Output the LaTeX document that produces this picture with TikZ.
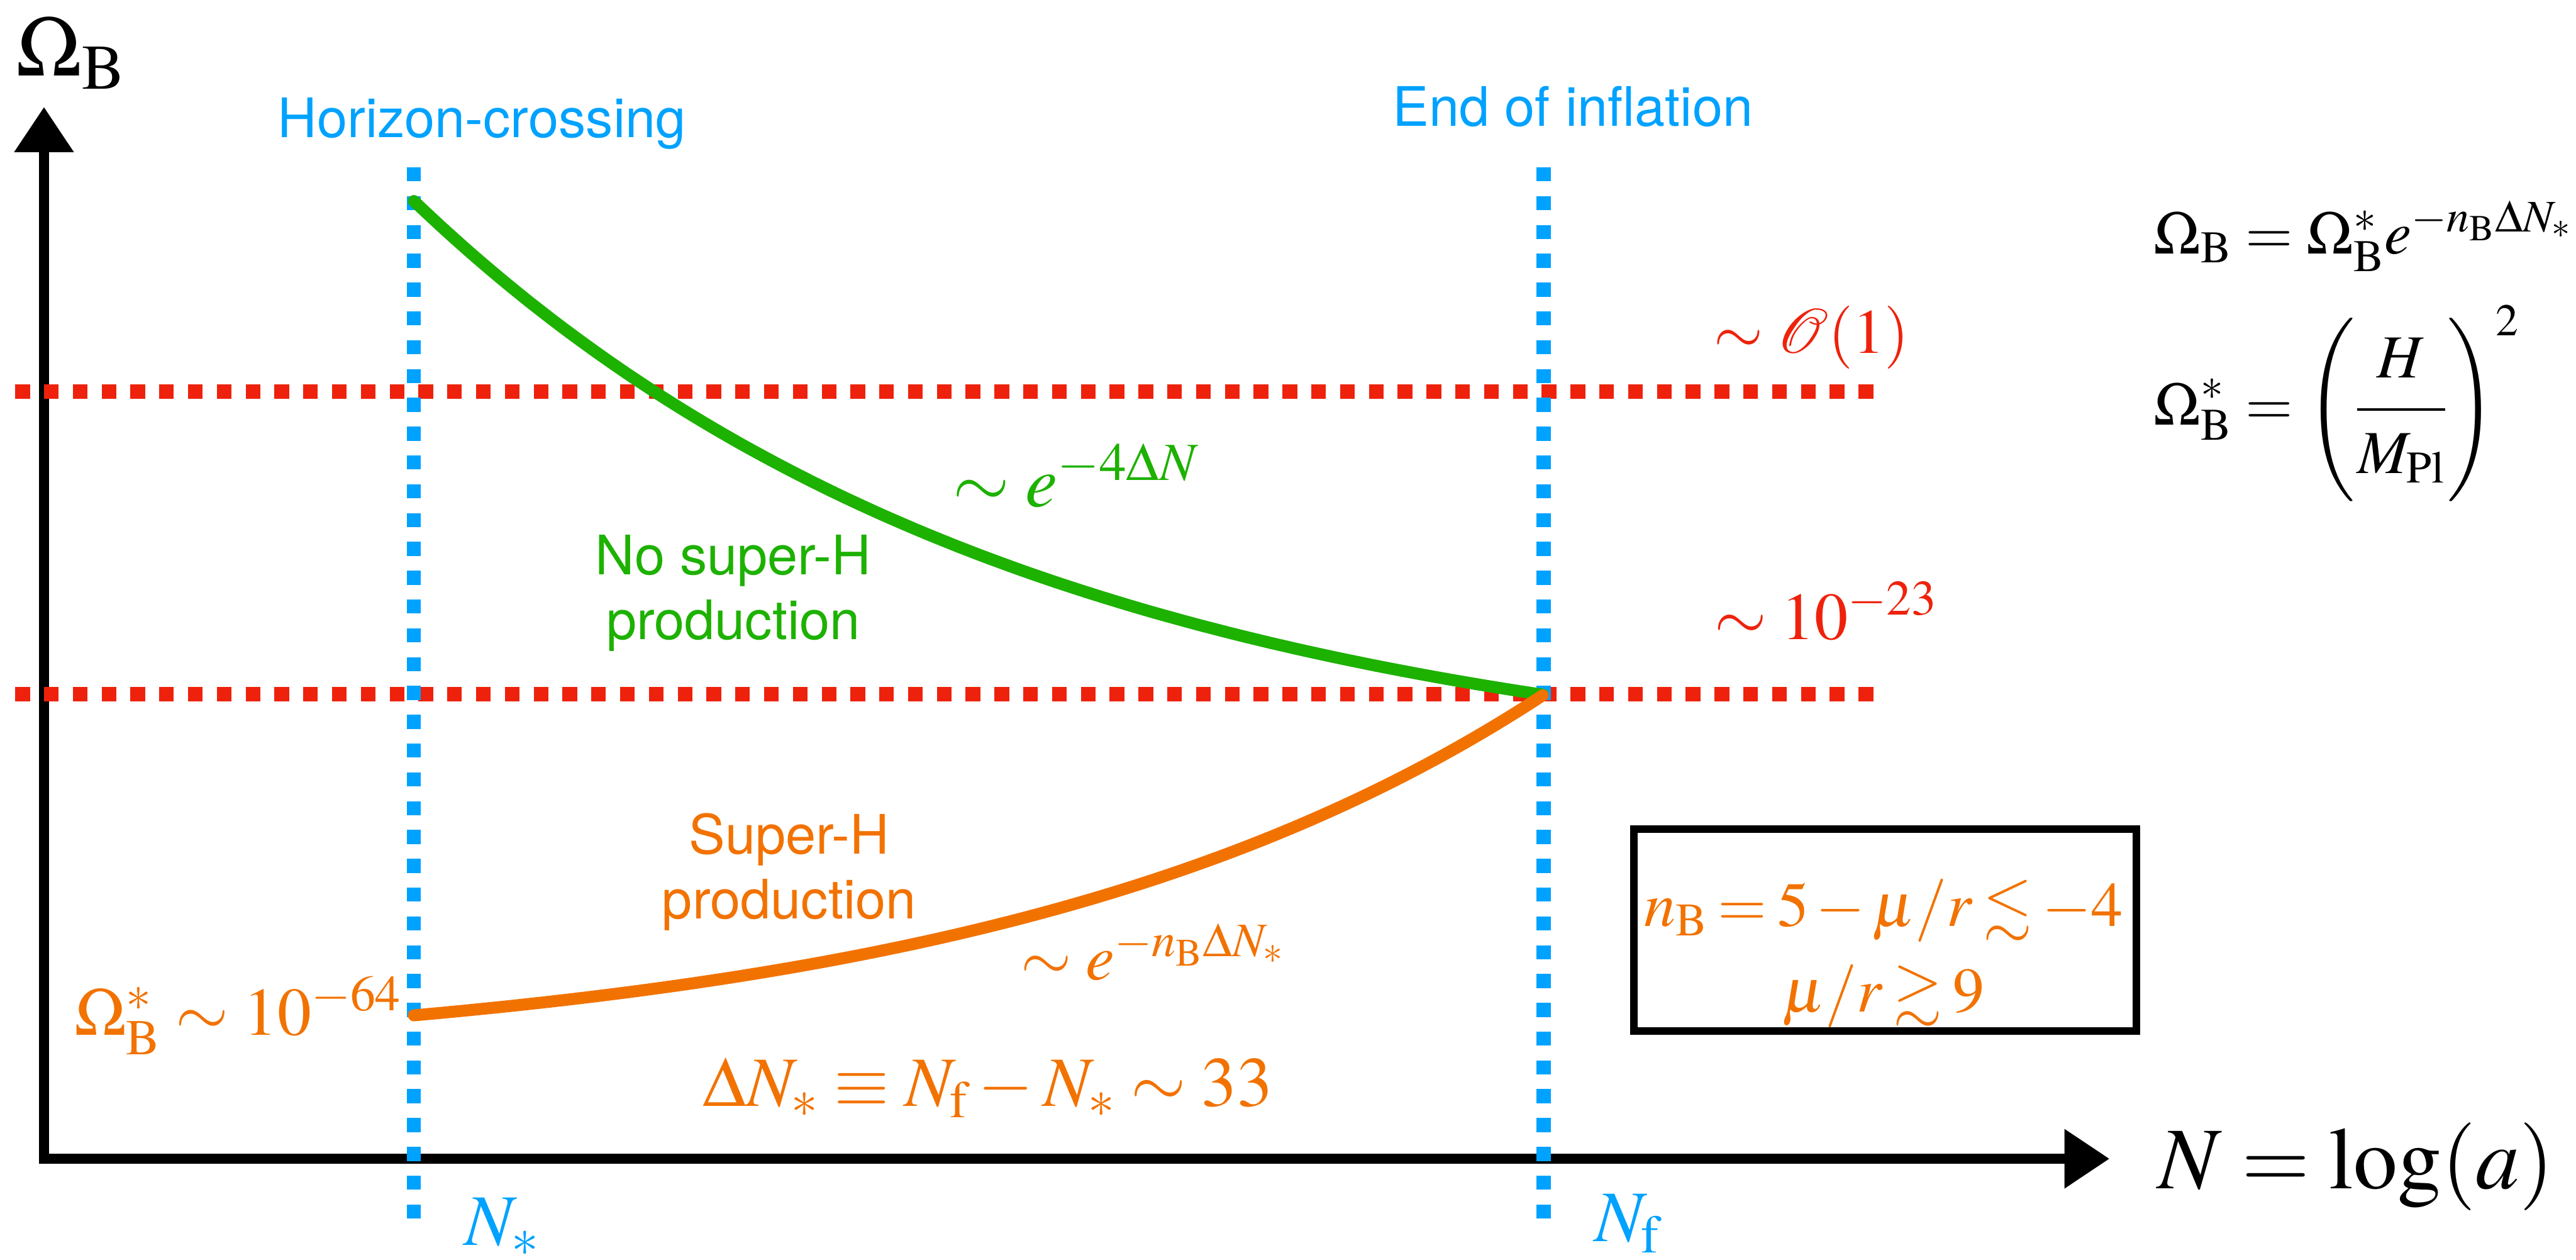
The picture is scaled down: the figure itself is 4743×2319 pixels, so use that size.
\documentclass[tikz,border=0pt]{standalone}
\usepackage{amsmath,amssymb}
\usepackage{mathptmx}
\usepackage[no-math]{fontspec}
\setmainfont{Liberation Serif}
\setsansfont{TeX Gyre Heros}
\usetikzlibrary{arrows.meta,positioning}
\definecolor{skyblue}{HTML}{00A2FF}
\definecolor{hotred}{HTML}{EE220C}
\definecolor{leafgreen}{HTML}{1DB100}
\definecolor{tangerine}{HTML}{F27200}
\newcommand{\msz}[1]{\fontsize{#1}{45}\selectfont}
\newcommand{\rmB}{\mathrm{B}}

\begin{document}
\begin{tikzpicture}[
  x=0.01cm, y=-0.01cm,
  axis/.style={line width=0.18cm, {Triangle[length=0.83cm,width=1.05cm]}-{Triangle[length=0.83cm,width=1.05cm]}},
  epoch/.style={skyblue, line width=0.26cm, dash pattern=on 0.26cm off 0.27cm},
  level/.style={hotred, line width=0.26cm, dash pattern=on 0.27cm off 0.26cm},
  curve/.style={line width=0.22cm, line cap=round},
  tag/.style={font=\fontsize{28.5}{34}\selectfont\sffamily, align=center, inner sep=0pt},
  eq/.style={font=\msz{38}, inner sep=0pt, anchor=base west},
  formula/.style={font=\fontsize{32}{36}\selectfont, inner sep=0pt, anchor=base west},
]
\useasboundingbox (0,0) rectangle (4743,2319);

\coordinate (orig) at (81,2133);
\coordinate (ytip) at (81,197);
\coordinate (xtip) at (3884,2133);
\draw[axis] (ytip) -- (orig) -- (xtip);

\coordinate (hiL) at (28,721);
\coordinate (hiR) at (3472,721);
\coordinate (loL) at (28,1278);
\coordinate (loR) at (3472,1278);
\draw[level] (hiL) -- (hiR);
\draw[level] (loL) -- (loR);

\coordinate (crossT) at (762,308);
\coordinate (crossB) at (762,2257);
\coordinate (endT) at (2842,308);
\coordinate (endB) at (2842,2257);
\draw[epoch] (crossT) -- (crossB);
\draw[epoch] (endT) -- (endB);

\draw[curve, leafgreen] plot[domain=0:1, samples=80, smooth]
  ({762+2080*\x}, {370+909*(1-exp(-1.85*\x))/(1-exp(-1.85))});
\draw[curve, tangerine] plot[domain=0:1, samples=80, smooth]
  ({762+2080*\x}, {1869-590*(exp(2*\x)-1)/(exp(2)-1)});

\node[anchor=base west, inner sep=0pt, font=\fontsize{45}{50}\selectfont] (ylab) at (29,140) {$\Omega_{\rmB}$};
\node[anchor=base west, inner sep=0pt, font=\fontsize{46}{50}\selectfont] (xlab) at (3973,2188) {$N = \log(a)$};

\node[tag, skyblue, anchor=base] (hc) at (887,253) {Horizon-crossing};
\node[tag, skyblue, anchor=base] (eoi) at (2896,232) {End of inflation};
\node[eq, skyblue] (nstar) at (855,2292) {$N_*$};
\node[eq, skyblue] (nf) at (2935,2285) {$N_{\mathrm f}$};

\node[eq, hotred, font=\msz{33}] (lvlhi) at (3155,650) {$\sim \mathcal{O}(1)$};
\node[eq, hotred, font=\msz{35}] (lvllo) at (3156,1177) {$\sim 10^{-23}$};

\node[tag, leafgreen] (nosh) at (1350,1092) {No super-H\\production};
\node[eq, leafgreen] (gslope) at (1754,933) {$\sim e^{-4\Delta N}$};

\node[tag, tangerine] (sh) at (1453,1605) {Super-H\\production};
\node[eq, tangerine, font=\msz{34}] (oslope) at (1879,1804) {$\sim e^{-n_{\rmB}\Delta N_*}$};
\node[eq, tangerine, font=\msz{35.5}] (ostart) at (136,1905) {$\Omega_{\rmB}^* \sim 10^{-64}$};
\node[eq, tangerine, font=\msz{37}] (dn) at (1293,2036) {$\Delta N_* \equiv N_{\mathrm f} - N_* \sim 33$};

\node[formula] (omdef) at (3965,467) {$\Omega_{\rmB} = \Omega_{\rmB}^* e^{-n_{\rmB}\Delta N_*}$};
\node[formula] (omstar) at (3965,782) {$\displaystyle \Omega_{\rmB}^* = \Biggl(\frac{H\rule[-0.38em]{0pt}{0pt}}{\rule{0pt}{0.9em}M_{\mathrm{Pl}}}\Biggr)^{2}$};

\node[draw, line width=0.14cm, minimum width=9.25cm, minimum height=3.72cm, anchor=north west,
      inner sep=0pt] (nbox) at (3001,1519) {};
\node[align=center, inner sep=0pt, text=tangerine, font=\fontsize{33}{45}\selectfont]
  (nbtext) at (3468,1755) {$\thickmuskip=3mu \medmuskip=2mu n_{\rmB} = 5 - \mu/r \lesssim -4$\\
  $\thickmuskip=3mu \mu/r \gtrsim 9$};
\end{tikzpicture}
\end{document}
